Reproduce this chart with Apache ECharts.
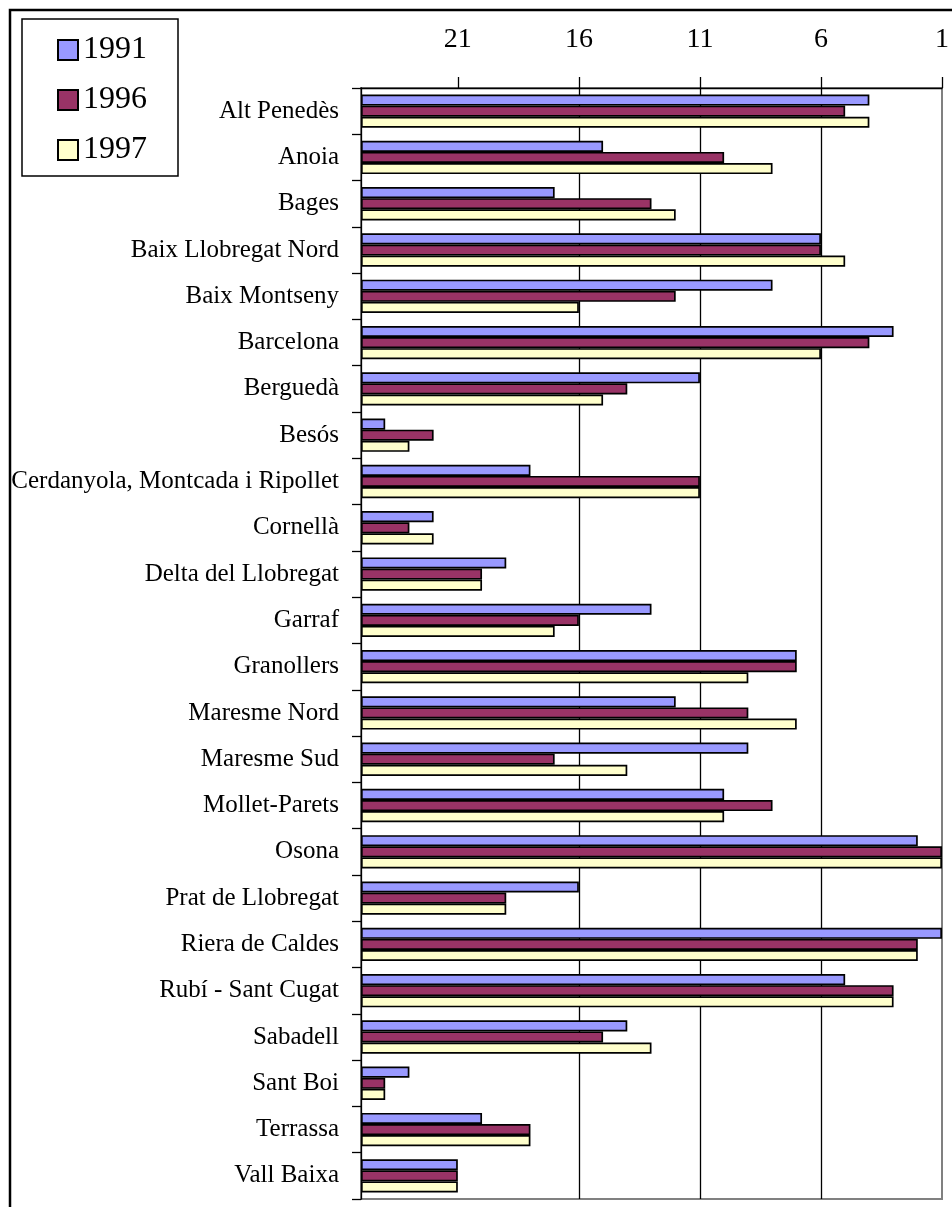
<!DOCTYPE html>
<html>
<head>
<meta charset="utf-8">
<script src="https://cdn.jsdelivr.net/npm/echarts@6/dist/echarts.min.js"></script>
<style>
html,body{margin:0;padding:0;background:#fff;}
#chart{width:952px;height:1207px;}
</style>
</head>
<body>
<div id="chart"></div>
<script>
const categories = ['Alt Penedès','Anoia','Bages','Baix Llobregat Nord','Baix Montseny','Barcelona','Berguedà','Besós','Cerdanyola, Montcada i Ripollet','Cornellà','Delta del Llobregat','Garraf','Granollers','Maresme Nord','Maresme Sud','Mollet-Parets','Osona','Prat de Llobregat','Riera de Caldes','Rubí - Sant Cugat','Sabadell','Sant Boi','Terrassa','Vall Baixa'];
const rank1991 = [4,15,17,6,8,3,11,24,18,22,19,13,7,12,9,10,2,16,1,5,14,23,20,21];
const rank1996 = [5,10,13,6,12,4,14,22,11,23,20,16,7,9,17,8,1,19,2,3,15,24,18,21];
const rank1997 = [4,8,12,5,16,6,15,23,11,22,20,17,9,7,14,10,1,19,2,3,13,24,18,21];
const seriesNames = ['1991','1996','1997'];
const tickLabels = [21,16,11,6,1];
const worstRank = 25;

const FONT = '"Times New Roman","Liberation Serif",serif';
const colors = ['#9999FF','#993366','#FFFFCC'];
const toLen = arr => arr.map(r => worstRank - r);

const chart = echarts.init(document.getElementById('chart'), null, {renderer:'canvas'});
const mk = (i, data) => ({
  name: seriesNames[i], type:'bar', xAxisIndex:1, yAxisIndex:0,
  data: toLen(data), barGap:'0%', barCategoryGap:'28%',
  itemStyle:{color:colors[i], borderColor:'#000', borderWidth:1.7},
  emphasis:{disabled:true}, animation:false
});
chart.setOption({
  animation:false,
  backgroundColor:'#fff',
  textStyle:{fontFamily:FONT},
  graphic:[{type:'rect', shape:{x:10,y:10,width:1000,height:1300}, style:{fill:null, stroke:'#000', lineWidth:2.5}, z:100, silent:true}],
  legend:{
    data:seriesNames, orient:'vertical', left:22, top:19, icon:'rect',
    padding:[15,31,10,35], itemWidth:20, itemHeight:20, itemGap:18, itemTextGap:12,
    borderColor:'#000', borderWidth:1.5, backgroundColor:'#fff',
    textStyle:{fontSize:32, fontFamily:FONT, color:'#000'},
    selectedMode:false
  },
  grid:{left:361, top:88, right:8, bottom:8, show:true, borderColor:'#808080', borderWidth:2, backgroundColor:'#fff', containLabel:false},
  xAxis:[{
    type:'value', position:'top', inverse:true, min:1, max:worstRank, interval:5,
    axisLine:{show:true, lineStyle:{color:'#000', width:1.3}},
    axisTick:{show:true, length:11, inside:false, customValues:tickLabels, lineStyle:{color:'#000', width:1.3}},
    axisLabel:{margin:34, fontSize:28, fontFamily:FONT, color:'#000',
      formatter: v => tickLabels.indexOf(v) >= 0 ? String(v) : ''},
    splitLine:{show:true, showMinLine:false, showMaxLine:false, lineStyle:{color:'#000', width:1.3}}
  },{
    type:'value', position:'top', min:0, max:worstRank-1, show:false
  }],
  yAxis:[{
    type:'category', data:categories, inverse:true,
    axisLine:{show:true, lineStyle:{color:'#000', width:1.3}},
    axisTick:{show:true, length:9, inside:false, alignWithLabel:false, lineStyle:{color:'#000', width:1.3}},
    axisLabel:{margin:22, fontSize:25, fontFamily:FONT, color:'#000', interval:0},
    splitLine:{show:false}
  }],
  series:[mk(0,rank1991), mk(1,rank1996), mk(2,rank1997)]
});
</script>
</body>
</html>
